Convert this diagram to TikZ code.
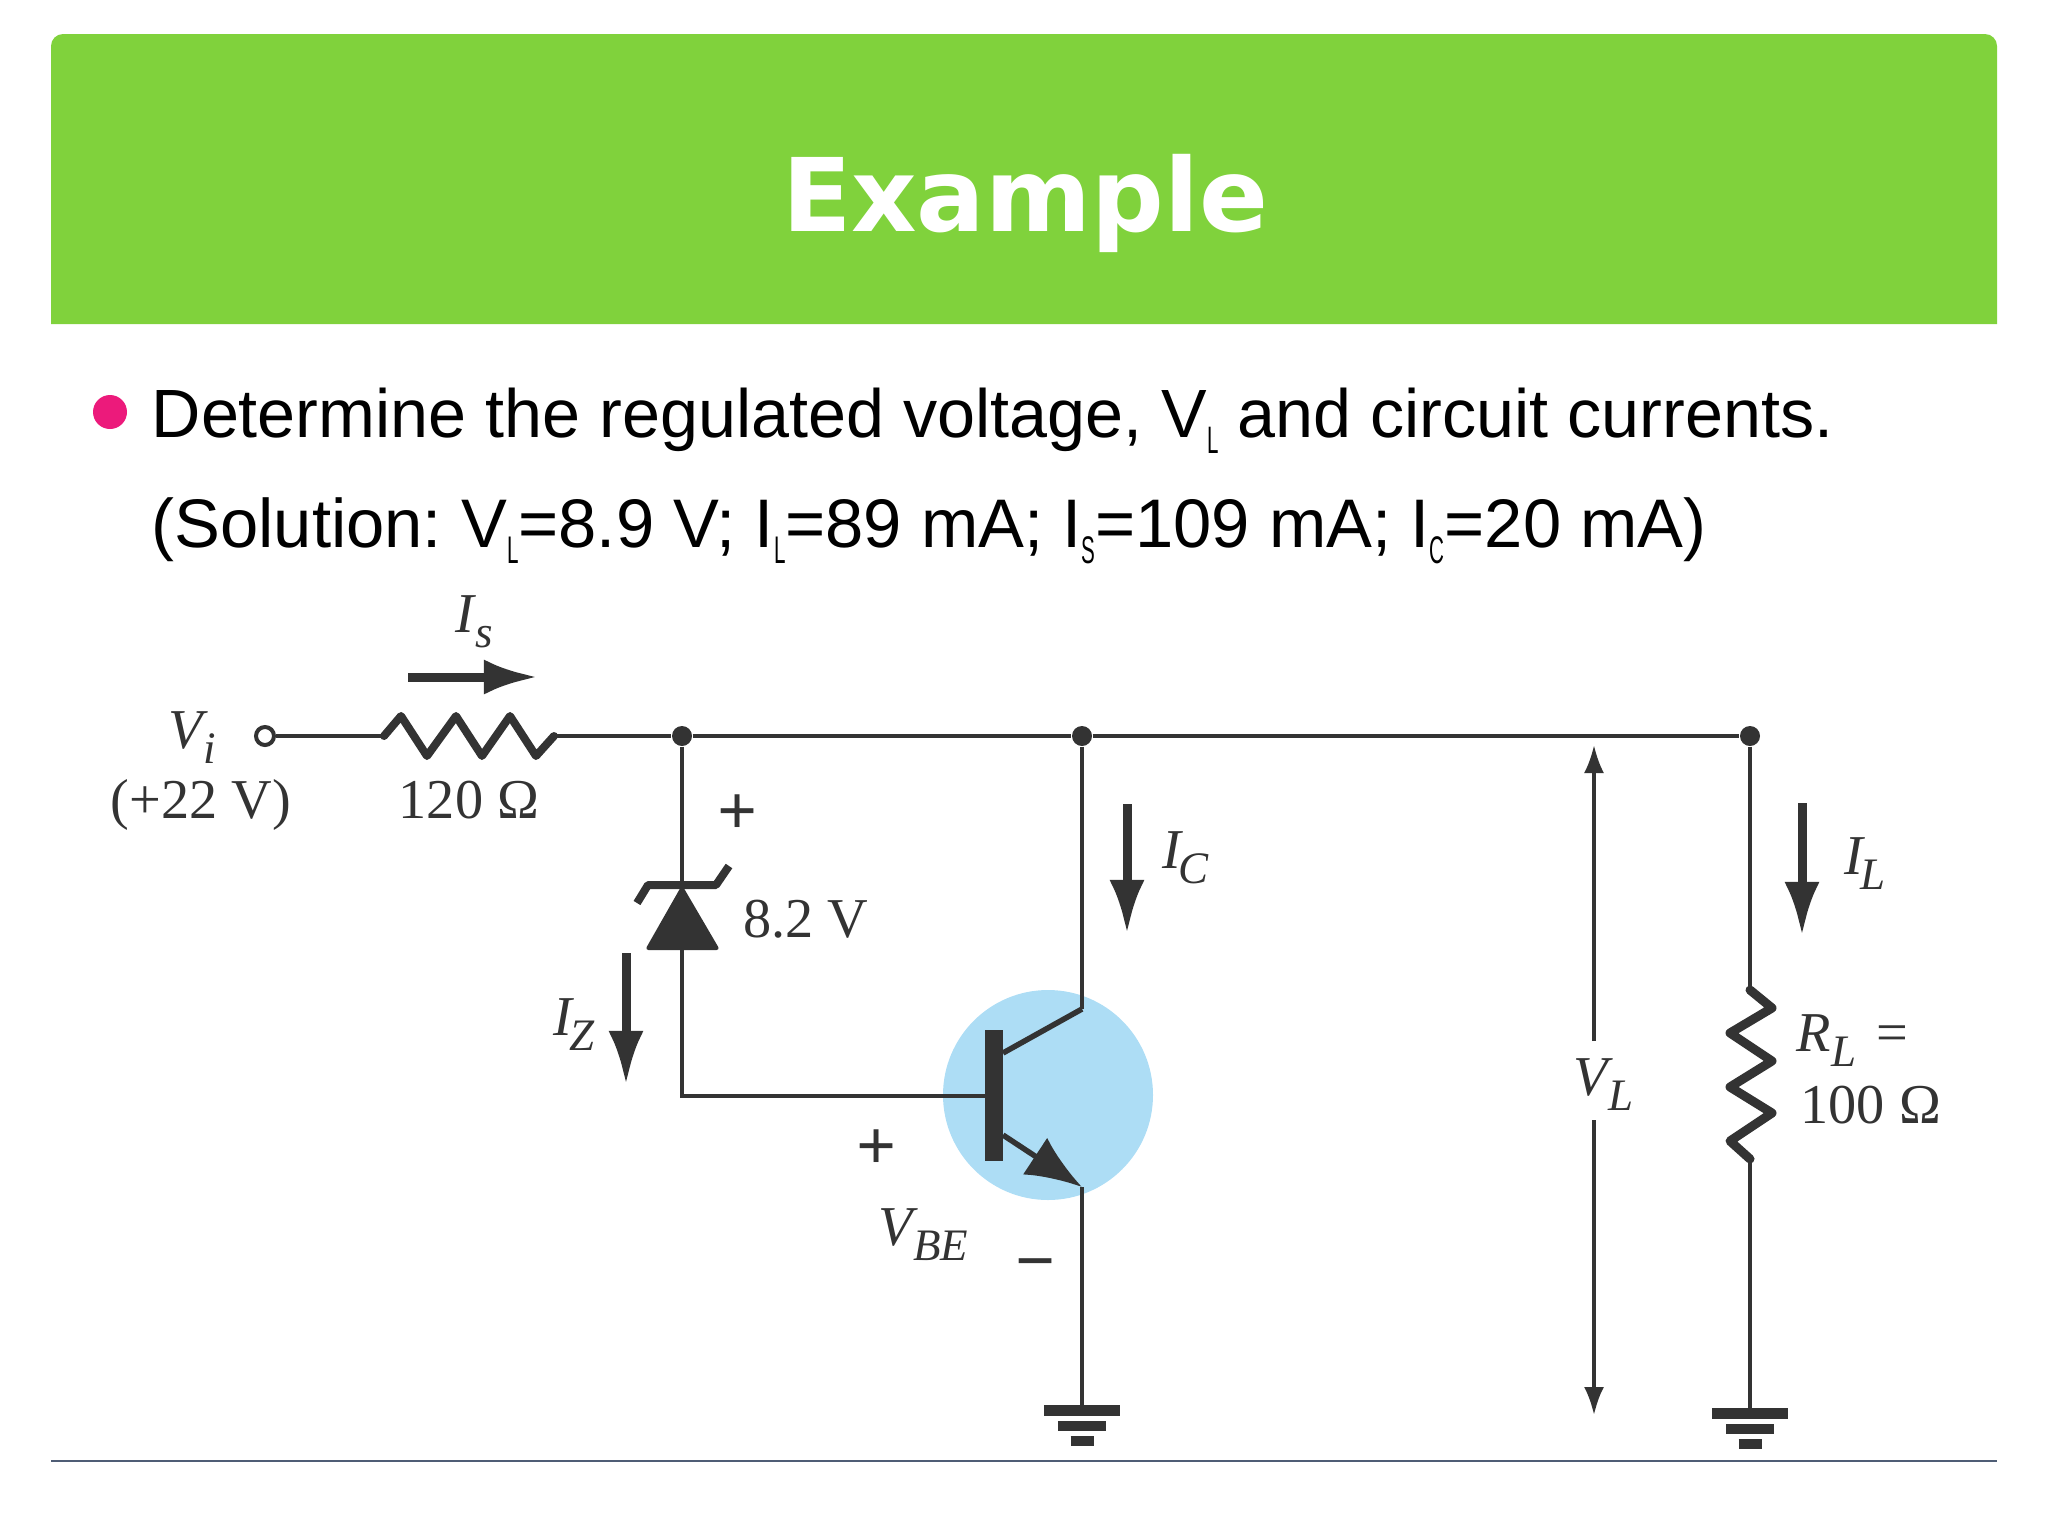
\documentclass[tikz,border=0pt]{standalone}
\usepackage{fontspec}
\usepackage{graphicx}
\usetikzlibrary{arrows.meta}
\setmainfont{Liberation Serif}
\newfontfamily\bodyfont{Liberation Sans}
\newfontfamily\titlefont{DejaVu Sans}
\definecolor{headgreen}{HTML}{80D23C}
\definecolor{bulletpink}{HTML}{EC1A7B}
\definecolor{bjtblue}{HTML}{ADDDF5}
\definecolor{inkdark}{HTML}{333333}
\definecolor{rulegrey}{HTML}{4F5D75}
\newcommand{\narrowsub}[1]{\raisebox{-0.16cm}{\scalebox{0.3}[0.56]{#1}}}
\newcommand{\lab}[2]{\textit{#1}\hspace{-0.05cm}\raisebox{-0.15cm}{\scalebox{0.8}{\textit{#2}}}}
\tikzset{
    wire/.style={draw=inkdark, line width=0.04cm},
    res/.style={draw=inkdark, line width=0.08cm, line join=round, line cap=round},
    dot/.style={circle, fill=inkdark, inner sep=0pt, minimum size=0.2cm},
    term/.style={circle, draw=inkdark, fill=white, line width=0.04cm, inner sep=0pt, minimum size=0.18cm},
    cur/.style={draw=inkdark, line width=0.09cm, -{Latex[length=0.54cm,width=0.35cm]}},
    vtip/.style={draw=inkdark, line width=0.035cm, -{Latex[length=0.28cm,width=0.2cm]}},
    lbl/.style={inner sep=0pt, anchor=base west, text=inkdark, font=\fontsize{16}{19}\selectfont},
    sgn/.style={inner sep=0pt, anchor=center, text=inkdark, font=\bfseries\fontsize{20}{22}\selectfont},
    gbar/.style={draw=inkdark, line width=0.11cm},
    bodytxt/.style={inner sep=0pt, anchor=base west, font=\bodyfont\fontsize{19.55}{24}\selectfont\frenchspacing}
}
\begin{document}
\begin{tikzpicture}[x=0.01cm, y=-0.01cm]
    \useasboundingbox (0,0) rectangle (2048,1536);

    % header band
    \fill[headgreen] (51,324) [rounded corners=0.12cm] -- (51,34) -- (1997,34) [sharp corners] -- (1997,324) -- cycle;
    \node[inner sep=0pt, anchor=base, text=white, font=\titlefont\bfseries\fontsize{28.9}{34}\selectfont] (title) at (1025,231) {Example};

    % text
    \fill[bulletpink] (110,412) circle[radius=17];
    \node[bodytxt, font=\bodyfont\fontsize{19.42}{24}\selectfont\frenchspacing] (line1) at (151,437) {Determine the regulated voltage, V\narrowsub{L} and circuit currents.};
    \node[bodytxt] (line2) at (151,547) {(Solution: V\narrowsub{L}=8.9 V; I\narrowsub{L}=89 mA; I\narrowsub{S}=109 mA; I\narrowsub{C}=20 mA)};

    % transistor disc
    \fill[bjtblue] (1048,1095) circle[radius=105];

    % nodes of the circuit
    \node[term] (vi) at (265,736) {};
    \node[dot] (ja) at (682,736) {};
    \node[dot] (jb) at (1082,736) {};
    \node[dot] (jc) at (1750,736) {};
    \coordinate (rsa) at (384,736);
    \coordinate (rsb) at (554,736);
    \coordinate (zk) at (682,885);
    \coordinate (za) at (682,950);
    \coordinate (bc) at (682,1096);
    \coordinate (bb) at (985,1096);
    \coordinate (cs) at (1003,1053);
    \coordinate (ce) at (1082,1009);
    \coordinate (es) at (1003,1135);
    \coordinate (ee) at (1082,1187);
    \coordinate (ga) at (1082,1410);
    \coordinate (gb) at (1750,1413);
    \coordinate (rla) at (1750,990);
    \coordinate (rlb) at (1750,1159);

    % wires
    \draw[wire] (vi) -- (rsa);
    \draw[wire] (rsb) -- (ja);
    \draw[wire] (ja) -- (jb);
    \draw[wire] (jb) -- (jc);
    \draw[wire] (ja) -- (zk);
    \draw[wire] (za) -- (bc) -- (bb);
    \draw[wire] (jb) -- (ce);
    \draw[wire, line width=0.055cm] (ce) -- (cs);
    \draw[wire, line width=0.055cm, -{Latex[length=0.56cm,width=0.44cm]}] (es) -- (ee);
    \draw[wire] (ee) -- (ga);
    \draw[wire] (jc) -- (rla);
    \draw[wire] (rlb) -- (gb);

    % resistors
    \draw[res] (rsa) -- ++(17,-20) -- ++(26,40) -- ++(29,-40) -- ++(26,40) -- ++(28,-40) -- ++(26,40) -- (rsb);
    \draw[res, line width=0.09cm] (rla) -- ++(22,18) -- ++(-42,25) -- ++(42,28) -- ++(-42,26) -- ++(42,26) -- ++(-42,28) -- (rlb);

    % zener
    \fill[inkdark, rounded corners=1pt] (645,950) -- (682,885) -- (720,950) -- cycle;
    \draw[draw=inkdark, line width=0.08cm, line join=round] (637,903) -- (648,885) -- (716,885) -- (729,866);

    % base bar
    \fill[inkdark] (985,1030) rectangle (1003,1161);

    % grounds
    \foreach \g in {ga,gb} {
        \draw[gbar] ([xshift=-0.38cm]\g) -- ([xshift=0.38cm]\g);
        \draw[gbar, line width=0.095cm] ([xshift=-0.24cm,yshift=-0.16cm]\g) -- ([xshift=0.24cm,yshift=-0.16cm]\g);
        \draw[gbar, line width=0.095cm] ([xshift=-0.115cm,yshift=-0.31cm]\g) -- ([xshift=0.115cm,yshift=-0.31cm]\g);
    }

    % current arrows
    \coordinate (isa) at (408,677);
    \coordinate (isb) at (538,677);
    \coordinate (iza) at (626,953);
    \coordinate (izb) at (626,1085);
    \coordinate (ica) at (1127,804);
    \coordinate (icb) at (1127,934);
    \coordinate (ila) at (1802,803);
    \coordinate (ilb) at (1802,936);
    \draw[cur] (isa) -- (isb);
    \draw[cur] (iza) -- (izb);
    \draw[cur] (ica) -- (icb);
    \draw[cur] (ila) -- (ilb);

    % load voltage arrows
    \coordinate (vla) at (1594,1041);
    \coordinate (vlb) at (1594,745);
    \coordinate (vlc) at (1594,1120);
    \coordinate (vld) at (1594,1415);
    \draw[vtip] (vla) -- (vlb);
    \draw[vtip] (vlc) -- (vld);

    % labels
    \node[lbl] (lis) at (455,632) {\lab{I\hspace{0.04cm}}{s}};
    \node[lbl] (lvi) at (168,748) {\lab{V}{i}};
    \node[lbl, anchor=base] (lvin) at (201,818) {(+22 V)};
    \node[lbl, anchor=base] (lrs) at (469,818) {120 Ω};
    \node[sgn] (pz) at (738,815) {+};
    \node[lbl, anchor=base] (lz) at (806,937) {8.2 V};
    \node[lbl] (liz) at (553,1035) {\lab{I}{Z}};
    \node[lbl] (lic) at (1162,868) {\lab{I}{C}};
    \node[lbl] (lil) at (1844,874) {\lab{I}{L}};
    \node[lbl] (lvl) at (1573,1095) {\lab{V}{L}};
    \node[lbl] (lrl) at (1796,1051) {\lab{R\hspace{0.05cm}}{L}\hspace{0.2cm}=};
    \node[lbl] (lrv) at (1800,1123) {100 Ω};
    \node[sgn] (pb) at (877,1150) {+};
    \node[lbl] (lvbe) at (878,1245) {\lab{V}{BE}};
    \node[sgn] (mb) at (1036,1272) {\textminus};

    % bottom rule
    \draw[rulegrey, line width=0.025cm] (51,1461) -- (1997,1461);
\end{tikzpicture}
\end{document}
